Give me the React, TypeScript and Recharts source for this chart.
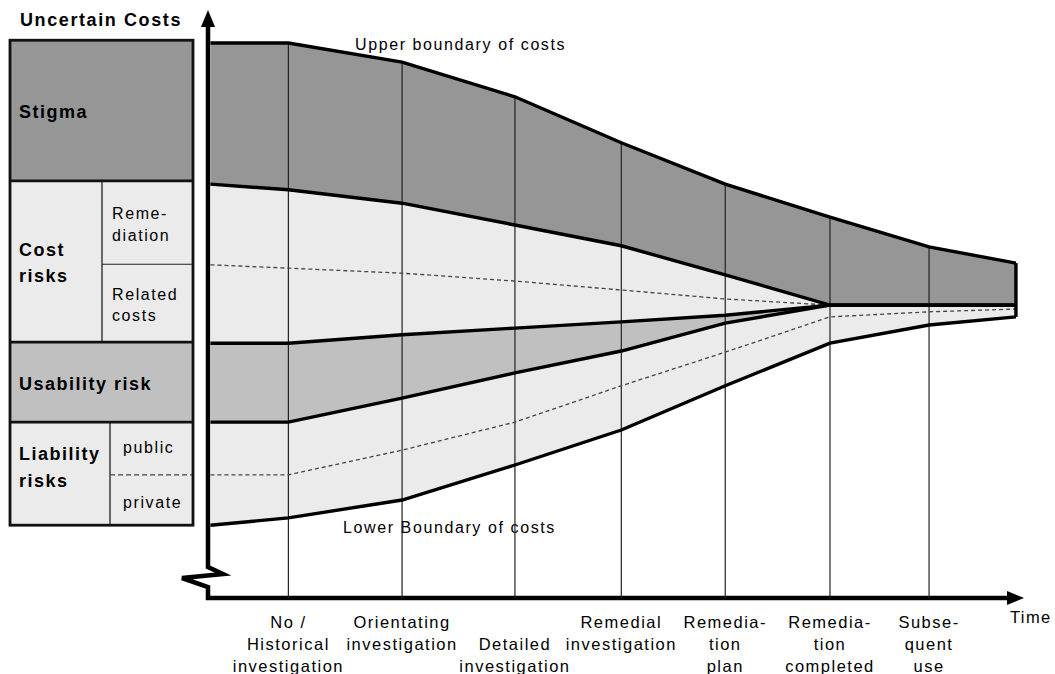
import React from 'react';
import { ComposedChart, Area, Line, XAxis, YAxis, ReferenceLine, Customized } from 'recharts';

// ---- data (value units: time 0..100, cost 0..100) ----
const stageTimes = [0.3, 9.9, 23.9, 37.8, 50.9, 63.7, 76.6, 88.8, 99.5];
const upperBoundary = [99.1, 99.1, 95.7, 89.5, 81.3, 73.9, 68.0, 62.7, 59.8];
const stigmaLower = [73.9, 72.9, 70.5, 66.6, 62.9, 57.7, 52.3, 52.3, 52.3];
const remediationSplit = [59.5, 58.9, 58.0, 56.6, 55.0, 53.4, 52.3, null, null];
const costLower = [45.5, 45.5, 47.0, 48.2, 49.3, 50.5, 52.3, 52.3, 52.3];
const usabilityLower = [31.4, 31.4, 35.7, 40.2, 44.1, 49.1, 52.3, 52.3, 52.3];
const liabilitySplit = [22.0, 22.0, 26.4, 31.4, 37.9, 43.9, 50.2, 51.1, 51.6];
const lowerBoundary = [13.0, 14.3, 17.5, 23.75, 30.0, 37.9, 45.5, 48.75, 50.2];

const stageLabels: string[][] = [
  ['No /', 'Historical', 'investigation'],
  ['Orientating', 'investigation'],
  ['', 'Detailed', 'investigation'],
  ['Remedial', 'investigation'],
  ['Remedia-', 'tion', 'plan'],
  ['Remedia-', 'tion', 'completed'],
  ['Subse-', 'quent', 'use'],
];
const stageTicks = stageTimes.slice(1, 8);

// legend panel edges (cost units)
const panelEdges = [99.6, 74.5, 45.7, 31.4, 13.0];
const panelRemediationSplit = 59.6;
const panelLiabilitySplit = 22.0;

const rows = stageTimes.map((t, i) => ({
  t,
  stigma: [stigmaLower[i], upperBoundary[i]],
  cost: [costLower[i], stigmaLower[i]],
  usability: [usabilityLower[i], costLower[i]],
  liability: [lowerBoundary[i], usabilityLower[i]],
  upper: upperBoundary[i],
  stigmaLow: stigmaLower[i],
  remSplit: remediationSplit[i],
  costLow: costLower[i],
  usabilityLow: usabilityLower[i],
  liabSplit: liabilitySplit[i],
  lower: lowerBoundary[i],
}));

// ---- layout ----
const W = 1055;
const H = 674;
const M = { top: 38, right: 35, bottom: 0, left: 208 };
const XAXIS_H = 76;
const PLOT_BOTTOM = H - XAXIS_H;
const PLOT_TOP = M.top;
const PLOT_LEFT = M.left;
const PLOT_RIGHT = W - M.right;
const yPx = (v: number) => PLOT_BOTTOM - (v / 100) * (PLOT_BOTTOM - PLOT_TOP);

const FONT = '"Liberation Sans", Arial, sans-serif';
const DARK = '#969696';
const MID = '#c0c0c0';
const LIGHT = '#ebebeb';
const THICK = 3.4;

const StageTick = (props: any) => {
  const { x, payload } = props;
  const idx = stageTicks.indexOf(payload.value);
  const lines = stageLabels[idx] || [];
  return (
    <text textAnchor="middle" fontFamily={FONT} fontSize={16.5} letterSpacing={1.5} fill="#000">
      {lines.map((l, i) => (
        <tspan key={i} x={x} y={PLOT_BOTTOM + 30 + i * 22}>
          {l}
        </tspan>
      ))}
    </text>
  );
};

const Overlay = () => {
  const ax = PLOT_LEFT;
  const ay = PLOT_BOTTOM;
  const bx0 = 10;
  const bx1 = 193;
  const e = panelEdges.map(yPx);
  const remY = yPx(panelRemediationSplit);
  const liabY = yPx(panelLiabilitySplit);
  const bold = { fontFamily: FONT, fontSize: 18, fontWeight: 700, letterSpacing: 1.5, fill: '#000' } as any;
  const reg = { fontFamily: FONT, fontSize: 16, letterSpacing: 1.6, fill: '#000' } as any;
  return (
    <g>
      {/* axes */}
      <path
        d={`M${ax},24 L${ax},567 L${ax + 15},574 L${ax - 26},578 L${ax},587 L${ax},${ay} L${PLOT_RIGHT - 10},${ay}`}
        fill="none"
        stroke="#000"
        strokeWidth={4.5}
        strokeLinejoin="miter"
      />
      <polygon points={`${ax},10 ${ax - 7},27 ${ax + 7},27`} fill="#000" />
      <polygon points={`${PLOT_RIGHT + 4},${ay} ${PLOT_RIGHT - 13},${ay - 7} ${PLOT_RIGHT - 13},${ay + 7}`} fill="#000" />
      <text x={PLOT_RIGHT - 10} y={623} fontFamily={FONT} fontSize={16.5} letterSpacing={1.4} fill="#000">Time</text>

      {/* legend panel */}
      <rect x={bx0} y={e[0]} width={bx1 - bx0} height={e[1] - e[0]} fill={DARK} />
      <rect x={bx0} y={e[1]} width={bx1 - bx0} height={e[2] - e[1]} fill={LIGHT} />
      <rect x={bx0} y={e[2]} width={bx1 - bx0} height={e[3] - e[2]} fill={MID} />
      <rect x={bx0} y={e[3]} width={bx1 - bx0} height={e[4] - e[3]} fill={LIGHT} />
      <line x1={102} y1={e[1]} x2={102} y2={e[2]} stroke="#222" strokeWidth={1.3} />
      <line x1={102} y1={remY} x2={bx1} y2={remY} stroke="#222" strokeWidth={1.2} />
      <line x1={110} y1={e[3]} x2={110} y2={e[4]} stroke="#222" strokeWidth={1.3} />
      <line x1={110} y1={liabY} x2={bx1} y2={liabY} stroke="#444" strokeWidth={1.3} strokeDasharray="5 3" />
      {[e[1], e[2], e[3]].map((y, i) => (
        <line key={i} x1={bx0} y1={y} x2={bx1} y2={y} stroke="#111" strokeWidth={2.8} />
      ))}
      <rect x={bx0} y={e[0]} width={bx1 - bx0} height={e[4] - e[0]} fill="none" stroke="#111" strokeWidth={2.8} />

      <text x={20} y={26} {...bold} letterSpacing={1.6}>Uncertain Costs</text>
      <text x={19} y={118} {...bold}>Stigma</text>
      <text x={19} y={256} {...bold}>Cost</text>
      <text x={19} y={282} {...bold}>risks</text>
      <text x={112} y={219} {...reg}>Reme-</text>
      <text x={112} y={241} {...reg}>diation</text>
      <text x={112} y={300} {...reg}>Related</text>
      <text x={112} y={321} {...reg}>costs</text>
      <text x={19} y={390} {...bold}>Usability risk</text>
      <text x={19} y={460} {...bold}>Liability</text>
      <text x={19} y={487} {...bold}>risks</text>
      <text x={123} y={453} {...reg}>public</text>
      <text x={123} y={508} {...reg}>private</text>

      {/* boundary labels */}
      <text x={355} y={50} fontFamily={FONT} fontSize={16} letterSpacing={1.6} fill="#000">Upper boundary of costs</text>
      <text x={343} y={533} fontFamily={FONT} fontSize={16} letterSpacing={1.6} fill="#000">Lower Boundary of costs</text>
    </g>
  );
};

export default function App() {
  const last = rows.length - 1;
  return (
    <div style={{ position: 'absolute', left: 0, top: 0, width: W, height: H, background: '#fff' }}>
      <ComposedChart width={W} height={H} data={rows} margin={M}>
        <XAxis
          dataKey="t"
          type="number"
          domain={[0, 100]}
          ticks={stageTicks}
          tick={<StageTick />}
          axisLine={false}
          tickLine={false}
          height={XAXIS_H}
          interval={0}
        />
        <YAxis hide width={0} type="number" domain={[0, 100]} />

        <Area dataKey="stigma" type="linear" fill={DARK} fillOpacity={1} stroke="none" isAnimationActive={false} />
        <Area dataKey="cost" type="linear" fill={LIGHT} fillOpacity={1} stroke="none" isAnimationActive={false} />
        <Area dataKey="usability" type="linear" fill={MID} fillOpacity={1} stroke="none" isAnimationActive={false} />
        <Area dataKey="liability" type="linear" fill={LIGHT} fillOpacity={1} stroke="none" isAnimationActive={false} />

        {stageTicks.map((t, i) => (
          <ReferenceLine
            key={t}
            segment={[
              { x: t, y: upperBoundary[i + 1] },
              { x: t, y: 0 },
            ]}
            stroke="#222"
            strokeWidth={1.2}
          />
        ))}

        <Line dataKey="remSplit" type="linear" stroke="#444" strokeWidth={1.3} strokeDasharray="4 3" dot={false} isAnimationActive={false} />
        <Line dataKey="liabSplit" type="linear" stroke="#444" strokeWidth={1.3} strokeDasharray="4 3" dot={false} isAnimationActive={false} />

        <Line dataKey="upper" type="linear" stroke="#000" strokeWidth={THICK} dot={false} isAnimationActive={false} />
        <Line dataKey="stigmaLow" type="linear" stroke="#000" strokeWidth={THICK} dot={false} isAnimationActive={false} />
        <Line dataKey="costLow" type="linear" stroke="#000" strokeWidth={THICK} dot={false} isAnimationActive={false} />
        <Line dataKey="usabilityLow" type="linear" stroke="#000" strokeWidth={THICK} dot={false} isAnimationActive={false} />
        <Line dataKey="lower" type="linear" stroke="#000" strokeWidth={THICK} dot={false} isAnimationActive={false} />

        <ReferenceLine
          segment={[
            { x: stageTimes[last], y: upperBoundary[last] },
            { x: stageTimes[last], y: lowerBoundary[last] },
          ]}
          stroke="#000"
          strokeWidth={THICK}
        />

        <Customized component={Overlay} />
      </ComposedChart>
    </div>
  );
}
